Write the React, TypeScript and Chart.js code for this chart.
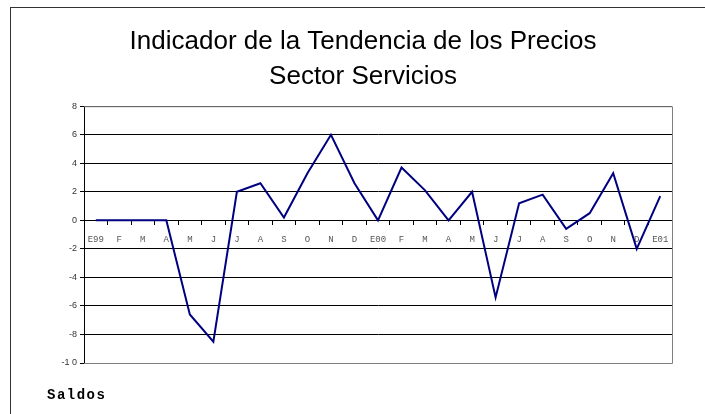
import React, { useEffect, useRef } from "react";
import { Chart, registerables } from "chart.js";

Chart.register(...registerables);

const categories = [
  "E99", "F", "M", "A", "M", "J", "J", "A", "S", "O", "N", "D",
  "E00", "F", "M", "A", "M", "J", "J", "A", "S", "O", "N", "D", "E01",
];
const saldos = [
  0, 0, 0, 0, -6.6, -8.5, 2.0, 2.6, 0.2, 3.3, 6.0, 2.6,
  0, 3.7, 2.1, 0, 2.0, -5.4, 1.2, 1.8, -0.6, 0.5, 3.3, -2.0, 1.7,
];
const titleLines = ["Indicador de la Tendencia de los Precios", "Sector Servicios"];
const yMin = -10;
const yMax = 8;
const yStep = 2;

const framePlugin = {
  id: "plotFrame",
  afterDraw(chart: any) {
    const { ctx, chartArea } = chart;
    ctx.save();
    ctx.strokeStyle = "#808080";
    ctx.lineWidth = 1;
    ctx.beginPath();
    ctx.moveTo(chartArea.left, chartArea.top + 0.5);
    ctx.lineTo(chartArea.right + 0.5, chartArea.top + 0.5);
    ctx.lineTo(chartArea.right + 0.5, chartArea.bottom + 0.5);
    ctx.lineTo(chartArea.left, chartArea.bottom + 0.5);
    ctx.stroke();
    ctx.restore();
  },
};

export default function App() {
  const ref = useRef<HTMLCanvasElement | null>(null);

  useEffect(() => {
    if (!ref.current) return;
    const chart = new Chart(ref.current, {
      type: "line",
      data: {
        labels: categories,
        datasets: [
          {
            data: saldos,
            borderColor: "#000080",
            borderWidth: 2,
            pointRadius: 0,
            tension: 0,
            fill: false,
          },
        ],
      },
      options: {
        responsive: false,
        animation: false,
        layout: { padding: { left: 54, right: 33, top: 22, bottom: 51 } },
        plugins: {
          legend: { display: false },
          tooltip: { enabled: false },
          title: {
            display: true,
            text: titleLines,
            color: "#000",
            font: { family: "'Liberation Sans', Arial, sans-serif", size: 26, weight: "normal", lineHeight: 1.35 },
            padding: { top: 2, bottom: 12 },
          },
        },
        scales: {
          x: {
            type: "category",
            position: { y: 0 } as any,
            offset: true,
            grid: {
              offset: true,
              drawOnChartArea: false,
              drawTicks: true,
              tickLength: 4,
              color: "#000",
            },
            border: { display: true, color: "#000", width: 1 },
            ticks: {
              autoSkip: false,
              maxRotation: 0,
              padding: 10,
              color: "#555",
              font: { family: "'Liberation Mono', 'Courier New', monospace", size: 9 },
            },
          },
          y: {
            min: yMin,
            max: yMax,
            afterFit(scale: any) {
              scale.width = 30;
            },
            ticks: {
              stepSize: yStep,
              padding: 3,
              color: "#333",
              font: { family: "'Liberation Sans', Arial, sans-serif", size: 9 },
              callback: (v: any) => (v === -10 ? "-1 0" : String(v)),
            },
            grid: { color: "#000", lineWidth: 1, tickLength: 4 },
            border: { display: true, color: "#000", width: 1 },
          },
        },
      },
      plugins: [framePlugin],
    });
    return () => chart.destroy();
  }, []);

  return (
    <div style={{ position: "fixed", left: 0, top: 0, width: 705, height: 414, background: "#fff", overflow: "hidden" }}>
      <div
        style={{
          position: "absolute",
          left: 10,
          top: 7,
          width: 800,
          height: 500,
          borderLeft: "1px solid #333",
          borderTop: "1px solid #333",
        }}
      />
      <canvas ref={ref} width={705} height={414} style={{ position: "absolute", left: 0, top: 0 }} />
      <span
        style={{
          position: "absolute",
          left: 47,
          top: 387,
          fontFamily: "'Liberation Mono', 'Courier New', monospace",
          fontWeight: "bold",
          fontSize: 14,
          letterSpacing: 1.5,
          color: "#000",
        }}
      >
        Saldos
      </span>
    </div>
  );
}
